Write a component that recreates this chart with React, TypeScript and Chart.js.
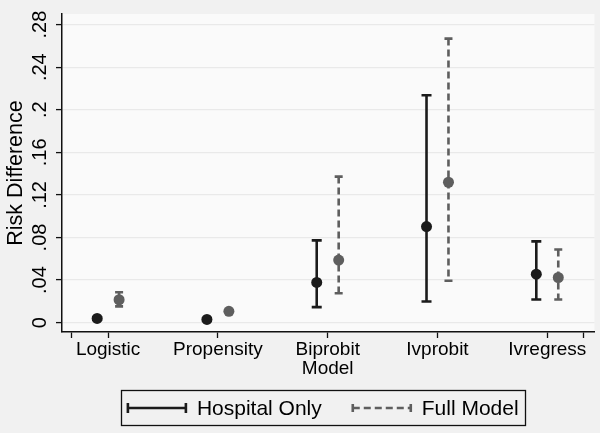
import React, { useEffect, useRef } from 'react';
import { Chart, registerables } from 'chart.js';

Chart.register(...registerables);

const categories = ['Logistic', 'Propensity', 'Biprobit\nModel', 'Ivprobit', 'Ivregress'];
const seriesNames = ['Hospital Only', 'Full Model'];

const hospitalEst = [0.0039, 0.003, 0.0378, 0.0903, 0.0455];
const hospitalLo = [0.0027, 0.002, 0.0146, 0.0199, 0.0218];
const hospitalHi = [0.0051, 0.004, 0.0773, 0.2137, 0.0764];

const fullEst = [0.0215, 0.0106, 0.0588, 0.1319, 0.0424];
const fullLo = [0.0153, 0.0092, 0.0276, 0.0394, 0.0218];
const fullHi = [0.0285, 0.012, 0.1372, 0.2669, 0.0687];

const yTicks = [0, 0.04, 0.08, 0.12, 0.16, 0.2, 0.24, 0.28];
const yTickLabels = ['0', '.04', '.08', '.12', '.16', '.2', '.24', '.28'];
const xExtraTicks = [0.67, 5.33];

const FONT = "'Liberation Sans', Arial, Helvetica, sans-serif";
const BLACK = '#1b1b1b';
const GRAY = '#5e5e5e';
const OFFSET = 0.1;

const seriesStyles = [
  { color: BLACK, dash: [] as number[], capHalf: 5 },
  { color: GRAY, dash: [7, 4], capHalf: 4 },
];
const intervals = [
  { lo: hospitalLo, hi: hospitalHi },
  { lo: fullLo, hi: fullHi },
];

const bgPlugin = {
  id: 'bgPlugin',
  beforeDraw(chart: any) {
    const { ctx, chartArea } = chart;
    ctx.save();
    ctx.fillStyle = '#f1f1f1';
    ctx.fillRect(0, 0, chart.width, chart.height);
    ctx.fillStyle = '#fafafa';
    ctx.fillRect(chartArea.left, chartArea.top, chartArea.right - chartArea.left, chartArea.bottom - chartArea.top);
    ctx.restore();
  },
};

const errorBarPlugin = {
  id: 'errorBarPlugin',
  beforeDatasetsDraw(chart: any) {
    const { ctx } = chart;
    const yScale = chart.scales.y;
    chart.data.datasets.forEach((_ds: any, di: number) => {
      const meta = chart.getDatasetMeta(di);
      const st = seriesStyles[di];
      const iv = intervals[di];
      meta.data.forEach((pt: any, i: number) => {
        const x = pt.x;
        const yLo = yScale.getPixelForValue(iv.lo[i]);
        const yHi = yScale.getPixelForValue(iv.hi[i]);
        ctx.save();
        ctx.strokeStyle = st.color;
        ctx.lineWidth = 2.6;
        ctx.setLineDash(st.dash);
        ctx.beginPath();
        ctx.moveTo(x, yHi);
        ctx.lineTo(x, yLo);
        ctx.stroke();
        ctx.setLineDash([]);
        ctx.beginPath();
        ctx.moveTo(x - st.capHalf, yLo);
        ctx.lineTo(x + st.capHalf, yLo);
        ctx.moveTo(x - st.capHalf, yHi);
        ctx.lineTo(x + st.capHalf, yHi);
        ctx.stroke();
        ctx.restore();
      });
    });
  },
};

const legendPlugin = {
  id: 'boxLegend',
  afterDraw(chart: any) {
    const { ctx, chartArea } = chart;
    const xs = chart.scales.x;
    const cx = (chartArea.left + xs.getPixelForValue(xExtraTicks[1])) / 2;
    const cy = 408;
    const symW = 60;
    const gapText = 10;
    const gapItem = 30;
    const pad = 6;
    ctx.save();
    ctx.font = `21px ${FONT}`;
    const widths = seriesNames.map((n) => ctx.measureText(n).width);
    const total = widths.reduce((a, b) => a + b, 0) + seriesNames.length * (symW + gapText) + gapItem * (seriesNames.length - 1);
    const boxL = cx - total / 2 - pad;
    const boxW = total + pad * 2;
    ctx.strokeStyle = '#111';
    ctx.lineWidth = 1.3;
    ctx.strokeRect(Math.round(boxL) + 0.5, 390.5, Math.round(boxW), 35);
    let x = cx - total / 2;
    seriesNames.forEach((name, i) => {
      const st = seriesStyles[i];
      ctx.strokeStyle = st.color;
      ctx.lineWidth = 2.6;
      ctx.setLineDash(st.dash);
      ctx.beginPath();
      ctx.moveTo(x + 1, cy);
      ctx.lineTo(x + symW - 1, cy);
      ctx.stroke();
      ctx.setLineDash([]);
      ctx.beginPath();
      ctx.moveTo(x + 1, cy - st.capHalf);
      ctx.lineTo(x + 1, cy + st.capHalf);
      ctx.moveTo(x + symW - 1, cy - st.capHalf);
      ctx.lineTo(x + symW - 1, cy + st.capHalf);
      ctx.stroke();
      ctx.fillStyle = '#000';
      ctx.textBaseline = 'middle';
      ctx.textAlign = 'left';
      ctx.fillText(name, x + symW + gapText, cy + 1);
      x += symW + gapText + widths[i] + gapItem;
    });
    ctx.restore();
  },
};

export default function App() {
  const ref = useRef<HTMLCanvasElement>(null);

  useEffect(() => {
    if (!ref.current) return;
    const chart = new Chart(ref.current, {
      type: 'scatter',
      data: {
        datasets: [
          {
            label: seriesNames[0],
            data: hospitalEst.map((v, i) => ({ x: i + 1 - OFFSET, y: v })),
            backgroundColor: BLACK,
            borderColor: BLACK,
            pointRadius: 5.5,
            borderWidth: 0,
          },
          {
            label: seriesNames[1],
            data: fullEst.map((v, i) => ({ x: i + 1 + OFFSET, y: v })),
            backgroundColor: GRAY,
            borderColor: GRAY,
            pointRadius: 5.5,
            borderWidth: 0,
          },
        ],
      },
      options: {
        animation: false,
        responsive: false,
        maintainAspectRatio: false,
        devicePixelRatio: 1,
        layout: { padding: { top: 10, right: 5, bottom: 51, left: 0 } },
        plugins: {
          legend: { display: false },
          tooltip: { enabled: false },
        },
        scales: {
          x: {
            type: 'linear',
            min: 0.58,
            max: 5.43,
            afterBuildTicks: (scale: any) => {
              scale.ticks = [xExtraTicks[0], ...categories.map((_, i) => i + 1), xExtraTicks[1]].map((v) => ({ value: v }));
            },
            afterFit: (scale: any) => {
              scale.height = 50;
            },
            ticks: {
              autoSkip: false,
              maxRotation: 0,
              minRotation: 0,
              padding: 2,
              color: '#000',
              font: { family: FONT, size: 19, lineHeight: 1.02 },
              callback: (value: any) => {
                const v = Number(value);
                if (Math.abs(v - Math.round(v)) < 1e-6 && v >= 1 && v <= categories.length) {
                  return categories[Math.round(v) - 1].split('\n');
                }
                return '';
              },
            },
            grid: {
              display: true,
              drawOnChartArea: false,
              drawTicks: true,
              tickLength: 6,
              tickColor: '#111',
              tickWidth: 1.3,
            },
            border: { display: true, color: '#111', width: 1.5 },
          },
          y: {
            type: 'linear',
            min: -0.0088,
            max: 0.29,
            afterBuildTicks: (scale: any) => {
              scale.ticks = yTicks.map((v) => ({ value: v }));
            },
            afterFit: (scale: any) => {
              scale.width = 62;
            },
            title: {
              display: true,
              text: 'Risk Difference',
              color: '#000',
              font: { family: FONT, size: 21.5 },
              padding: { top: 3, bottom: 0 },
            },
            ticks: {
              autoSkip: false,
              minRotation: 90,
              maxRotation: 90,
              crossAlign: 'center',
              padding: 2,
              color: '#000',
              font: { family: FONT, size: 20 },
              callback: (_v: any, index: number) => yTickLabels[index],
            },
            grid: {
              display: true,
              drawOnChartArea: true,
              color: '#e9e9e9',
              lineWidth: 1.2,
              drawTicks: true,
              tickLength: 6,
              tickColor: '#111',
              tickWidth: 1.3,
            },
            border: { display: true, color: '#111', width: 1.5 },
          },
        },
      },
      plugins: [bgPlugin, errorBarPlugin, legendPlugin],
    });
    return () => chart.destroy();
  }, []);

  return (
    <div style={{ position: 'fixed', left: 0, top: 0, width: 600, height: 433 }}>
      <canvas ref={ref} width={600} height={433} style={{ width: 600, height: 433, display: 'block' }} />
    </div>
  );
}
